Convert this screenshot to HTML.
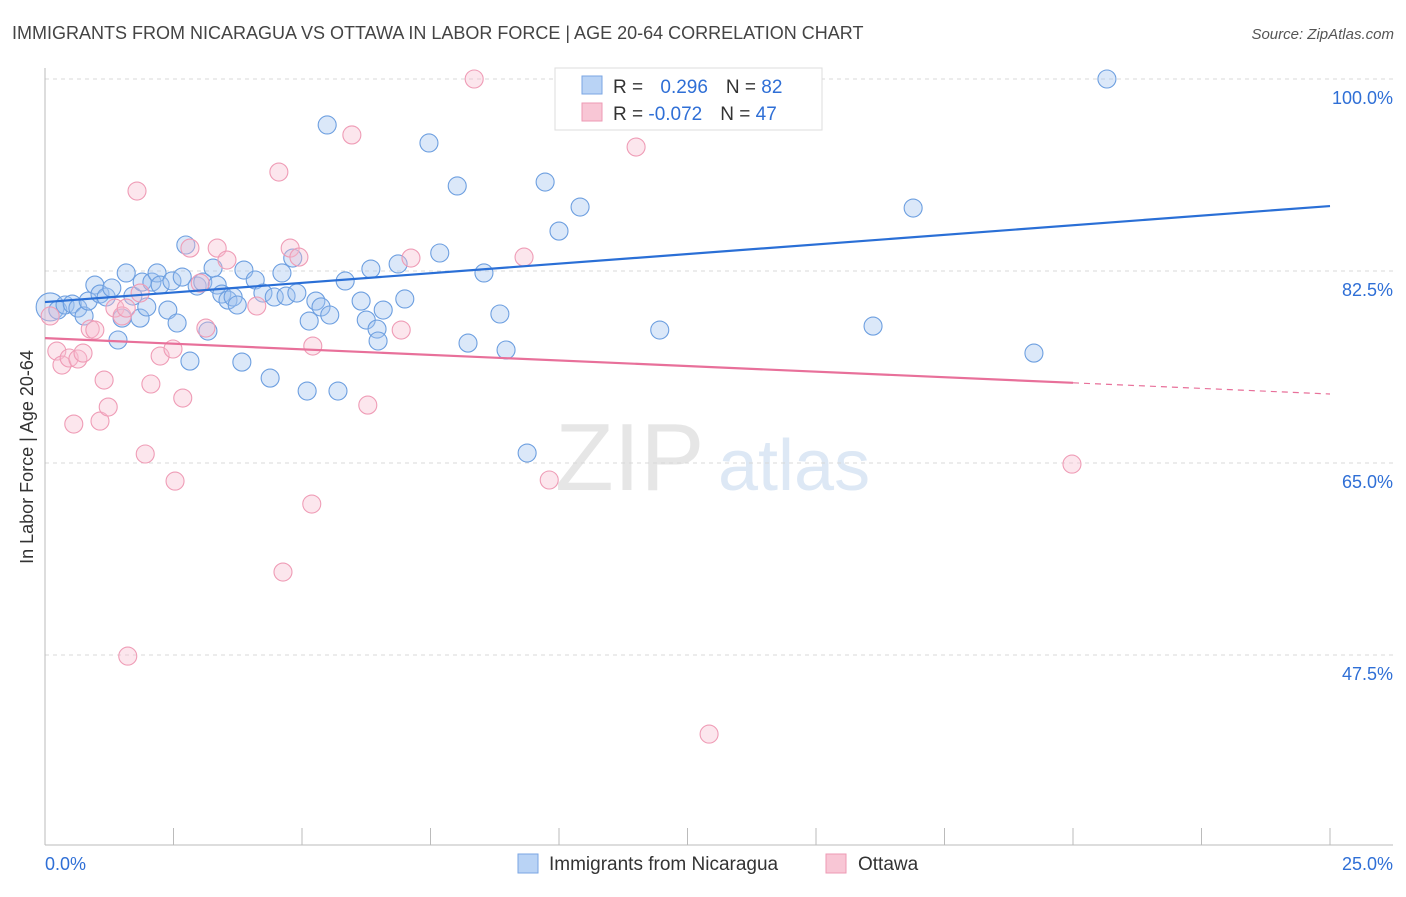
<!DOCTYPE html>
<html><head><meta charset="utf-8"><style>
body{margin:0;background:#fff;font-family:"Liberation Sans",sans-serif}
svg text{font-family:"Liberation Sans",sans-serif}
</style></head><body>
<svg id="chart" width="1406" height="892" xmlns="http://www.w3.org/2000/svg">
<text x="12" y="39" font-size="18" fill="#444">IMMIGRANTS FROM NICARAGUA VS OTTAWA IN LABOR FORCE | AGE 20-64 CORRELATION CHART</text>
<text x="1394" y="39" font-size="15" fill="#555" font-style="italic" text-anchor="end">Source: ZipAtlas.com</text>
<text x="33" y="457" font-size="18" fill="#333" text-anchor="middle" transform="rotate(-90 33 457)">In Labor Force | Age 20-64</text>
<g><text x="555" y="490" font-size="96" fill="#e6e6e6" font-family="Liberation Serif">ZIP</text><text x="718" y="490" font-size="72" fill="#dde8f5">atlas</text></g>
<g id="grid"></g><g id="axes"></g><g id="pts"></g><g id="trends"></g>
<g>
<rect x="555" y="68" width="267" height="62" fill="#fff" stroke="#ddd"/>
<rect x="582" y="76" width="20" height="18" fill="#b9d3f5" stroke="#7aa6e3"/>
<rect x="582" y="103" width="20" height="18" fill="#f8c6d5" stroke="#ee9ab4"/>
<text x="613" y="93" font-size="19" fill="#333">R = <tspan fill="#2f6fd6" dx="12">0.296</tspan><tspan fill="#333" dx="18">N = </tspan><tspan fill="#2f6fd6">82</tspan></text>
<text x="613" y="120" font-size="19" fill="#333">R = <tspan fill="#2f6fd6">-0.072</tspan><tspan fill="#333" dx="18">N = </tspan><tspan fill="#2f6fd6">47</tspan></text>
</g>
<g>
<rect x="518" y="854" width="20" height="19" fill="#b9d3f5" stroke="#7aa6e3"/>
<text x="549" y="870" font-size="19" fill="#333">Immigrants from Nicaragua</text>
<rect x="826" y="854" width="20" height="19" fill="#f8c6d5" stroke="#ee9ab4"/>
<text x="858" y="870" font-size="19" fill="#333">Ottawa</text>
</g>
</svg>
<script>
const yTicks=[100,82.5,65,47.5];
const yTickLabels=["100.0%","82.5%","65.0%","47.5%"];
const xTickLabels=["0.0%","25.0%"];
const blueX=[0.10,0.25,0.39,0.53,0.64,0.76,0.84,0.97,1.07,1.19,1.30,1.42,1.50,1.58,1.71,1.85,1.89,1.98,2.08,2.18,2.24,2.39,2.47,2.57,2.67,2.74,2.82,2.96,3.07,3.17,3.27,3.35,3.44,3.56,3.66,3.74,3.83,3.87,4.09,4.24,4.38,4.46,4.61,4.69,4.82,4.90,5.10,5.14,5.27,5.37,5.49,5.54,5.70,5.84,6.15,6.25,6.34,6.46,6.48,6.58,6.87,7.00,7.47,7.68,8.02,8.23,8.54,8.85,8.97,9.38,9.73,10.00,10.41,10.72,11.96,16.11,16.89,19.24,20.66];
const blueY=[79.22,78.94,79.40,79.49,79.12,78.40,79.76,81.22,80.40,80.13,80.95,76.21,78.21,82.32,80.22,78.21,81.49,79.22,81.49,82.32,81.22,78.94,81.59,77.76,81.95,84.87,74.29,81.13,81.49,77.03,82.77,81.22,80.40,79.85,80.13,79.40,74.20,82.59,81.68,80.49,72.74,80.13,82.32,80.22,83.68,80.49,71.56,77.94,79.76,79.22,95.81,78.49,71.56,81.59,79.76,78.03,82.68,77.21,76.12,78.94,83.14,79.95,94.17,84.14,90.25,75.93,82.32,78.58,75.30,65.91,90.61,86.14,88.33,99.91,77.12,77.48,88.24,75.02,100.0];
const pinkX=[0.10,0.23,0.33,0.47,0.56,0.64,0.74,0.88,0.97,1.07,1.15,1.23,1.36,1.50,1.58,1.61,1.79,1.85,1.95,2.06,2.24,2.49,2.53,2.68,2.82,3.02,3.13,3.35,3.54,4.12,4.55,4.63,4.77,4.94,5.19,5.21,5.97,6.28,6.93,7.12,8.35,9.32,9.81,11.50,12.92,19.98];
const pinkY=[78.40,75.20,73.93,74.57,68.55,74.48,75.02,77.21,77.12,68.82,72.56,70.10,79.12,78.40,79.12,47.40,89.79,80.49,65.82,72.20,74.75,75.39,63.35,70.92,84.59,81.40,77.30,84.59,83.50,79.31,91.52,55.06,84.59,83.77,61.26,75.66,94.90,70.28,77.12,83.68,100.0,83.77,63.45,93.80,40.29,64.90];
const blueTrend=[79.67,88.42];
const pinkTrend=[76.38,71.29];
const pinkSolidEnd=20;
const NS="http://www.w3.org/2000/svg";
const X0=45,X1=1330,XMAX=25;
const sx=v=>X0+(X1-X0)*v/XMAX;
const sy=v=>79+(100-v)*192/17.5;
function mk(tag,attrs,parent){const e=document.createElementNS(NS,tag);for(const k in attrs)e.setAttribute(k,attrs[k]);parent.appendChild(e);return e;}
const grid=document.getElementById('grid'),axes=document.getElementById('axes'),pts=document.getElementById('pts'),tr=document.getElementById('trends');
yTicks.forEach((t,i)=>{
 const l=mk('line',{x1:45,x2:1393,y1:sy(t),y2:sy(t),stroke:'#d8d8d8','stroke-dasharray':'4,4'},grid);
 
 
 const tx=mk('text',{x:1393,y:sy(t)+25,'font-size':18,fill:'#2f6fd6','text-anchor':'end'},axes);
 tx.textContent=yTickLabels[i];
 
 
});
const ya=mk('line',{x1:45,x2:45,y1:68,y2:845,stroke:'#bbb'},axes);


const xa=mk('line',{x1:45,x2:1393,y1:845,y2:845,stroke:'#bbb'},axes);


for(let i=0;i<=10;i++){const v=XMAX*i/10;const t=mk('line',{x1:sx(v),x2:sx(v),y1:828,y2:845,stroke:'#bbb'},axes);
 
 }
[[0,'start',45],[25,'end',1393]].forEach((d,i)=>{const t=mk('text',{x:d[2],y:870,'font-size':18,fill:'#2f6fd6','text-anchor':d[1]},axes);t.textContent=xTickLabels[i];
 
 });
blueX.forEach((x,i)=>{const c=mk('circle',{cx:sx(x),cy:sy(blueY[i]),r:i===0?14:9,fill:'rgba(160,195,240,0.38)',stroke:'#6d9fe0','stroke-width':1.1},pts);
 
 });
pinkX.forEach((x,i)=>{const c=mk('circle',{cx:sx(x),cy:sy(pinkY[i]),r:9,fill:'rgba(248,190,208,0.38)',stroke:'#ef9cb6','stroke-width':1.1},pts);
 
 });
const bl=mk('line',{x1:sx(0),y1:sy(blueTrend[0]),x2:sx(25),y2:sy(blueTrend[1]),stroke:'#2a6fd6','stroke-width':2.2},tr);


const pm=pinkTrend[0]+(pinkTrend[1]-pinkTrend[0])*pinkSolidEnd/25;
const pl=mk('line',{x1:sx(0),y1:sy(pinkTrend[0]),x2:sx(pinkSolidEnd),y2:sy(pm),stroke:'#e8709a','stroke-width':2.2},tr);


const pd=mk('line',{x1:sx(pinkSolidEnd),y1:sy(pm),x2:sx(25),y2:sy(pinkTrend[1]),stroke:'#e8709a','stroke-width':1.2,'stroke-dasharray':'6,5'},tr);


</script>
</body></html>
